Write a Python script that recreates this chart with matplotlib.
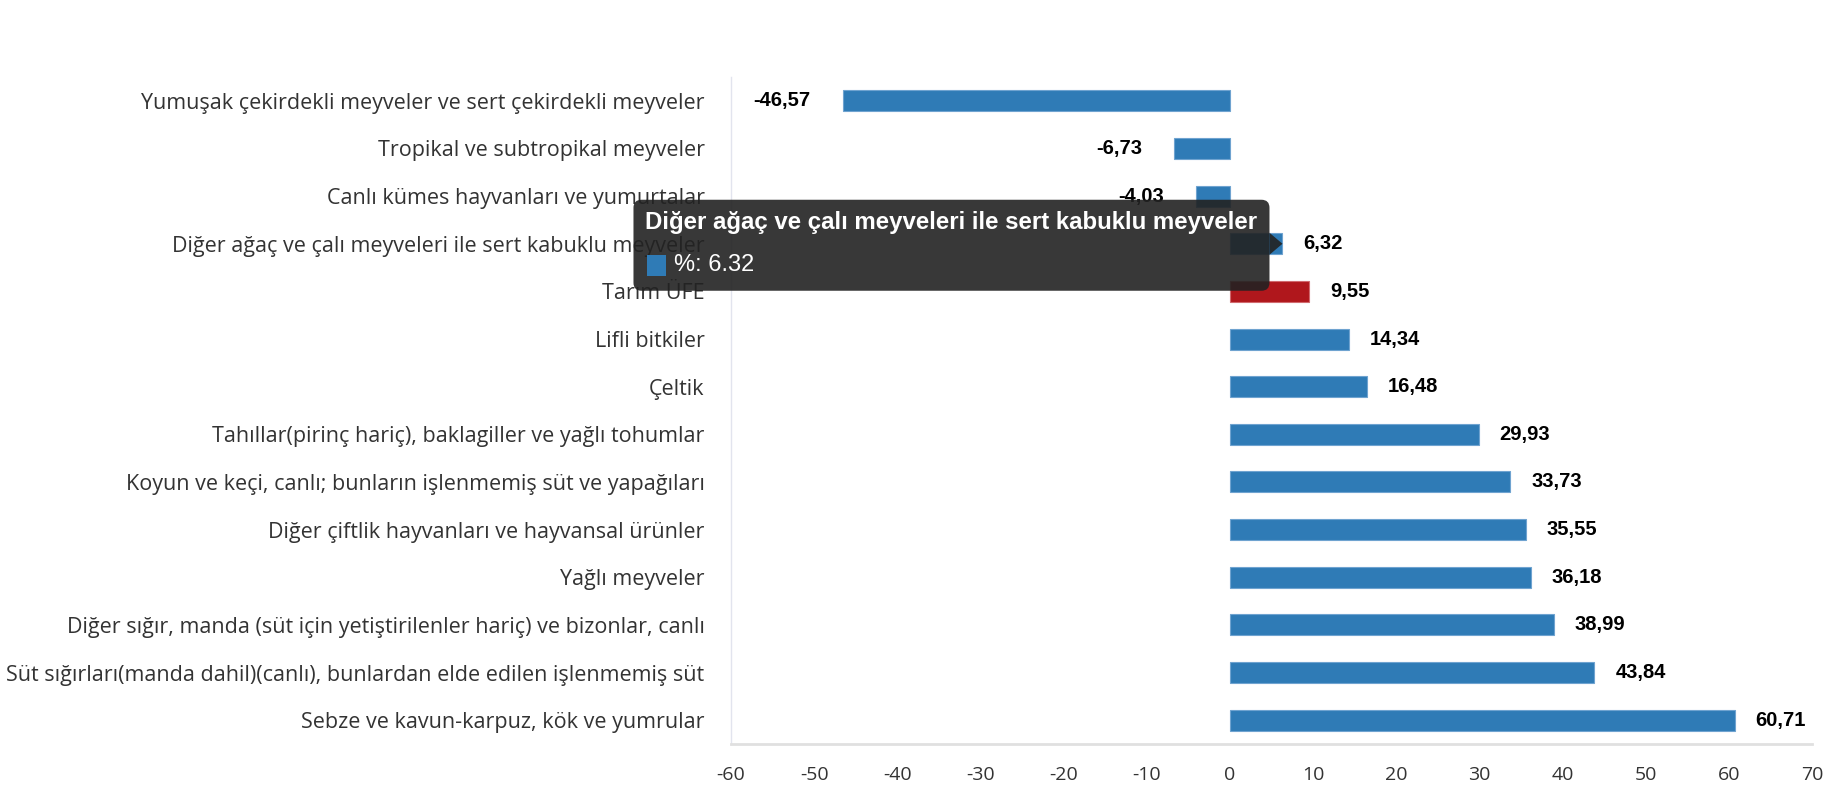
import matplotlib
matplotlib.use("Agg")
import matplotlib.pyplot as plt
from matplotlib.patches import FancyBboxPatch, Polygon, Rectangle
from matplotlib.transforms import IdentityTransform

categories = [
    "Yumuşak çekirdekli meyveler ve sert çekirdekli meyveler",
    "Tropikal ve subtropikal meyveler",
    "Canlı kümes hayvanları ve yumurtalar",
    "Diğer ağaç ve çalı meyveleri ile sert kabuklu meyveler",
    "Tarım ÜFE",
    "Lifli bitkiler",
    "Çeltik",
    "Tahıllar(pirinç hariç), baklagiller ve yağlı tohumlar",
    "Koyun ve keçi, canlı; bunların işlenmemiş süt ve yapağıları",
    "Diğer çiftlik hayvanları ve hayvansal ürünler",
    "Yağlı meyveler",
    "Diğer sığır, manda (süt için yetiştirilenler hariç) ve bizonlar, canlı",
    "Süt sığırları(manda dahil)(canlı), bunlardan elde edilen işlenmemiş süt",
    "Sebze ve kavun-karpuz, kök ve yumrular",
]
values = [-46.57, -6.73, -4.03, 6.32, 9.55, 14.34, 16.48, 29.93, 33.73,
          35.55, 36.18, 38.99, 43.84, 60.71]
highlight = "Tarım ÜFE"
xticks = list(range(-60, 71, 10))
tooltip_index = 3
tooltip_title = categories[tooltip_index]
tooltip_text = "%: 6.32"

BLUE = "#2f7bb6"
RED = "#b0171c"

fig = plt.figure(figsize=(18.3, 8), dpi=100)
ax = fig.add_axes([731 / 1830, 1 - 744 / 800, (1812 - 731) / 1830, (744 - 77) / 800])

ypos = list(range(len(categories)))
colors = [RED if c == highlight else BLUE for c in categories]
edgecolors = ["#d06a6e" if c == highlight else "#6fa3d0" for c in categories]
ax.barh(ypos, values, height=0.44, color=colors, edgecolor=edgecolors,
        linewidth=0.8, zorder=3)

ax.set_xlim(-60, 70)
ax.set_ylim(len(categories) - 0.5, -0.5)
ax.set_xticks(xticks)
ax.set_xticklabels([str(t) for t in xticks], fontfamily="Open Sans",
                   fontsize=14, color="#333333")
ax.set_yticks(ypos)
ax.set_yticklabels(categories, fontfamily="Open Sans", fontsize=15.5,
                   color="#333333")
ax.tick_params(axis="y", length=0, pad=19)
ax.tick_params(axis="x", length=0, pad=16)

for s in ["top", "right"]:
    ax.spines[s].set_visible(False)
ax.spines["bottom"].set_color("#e0e0e0")
ax.spines["bottom"].set_linewidth(2)
ax.spines["left"].set_color("#e2e4ee")
ax.spines["left"].set_linewidth(1)

for y, v in zip(ypos, values):
    lab = f"{v:.2f}".replace(".", ",")
    if v >= 0:
        ax.annotate(lab, (v, y), xytext=(15, 0), textcoords="offset points",
                    ha="left", va="center", fontsize=14.5, fontweight="bold",
                    fontfamily="Liberation Sans", color="black", zorder=4)
    else:
        ax.annotate(lab, (v, y), xytext=(-23, 0), textcoords="offset points",
                    ha="right", va="center", fontsize=14.5, fontweight="bold",
                    fontfamily="Liberation Sans", color="black", zorder=4)

# Tooltip (pixel coordinates relative to hovered bar end)
fig.canvas.draw()
tx, ty = ax.transData.transform((values[tooltip_index], tooltip_index))
bx1 = tx - 13
bx0 = bx1 - 636
btop = ty + 44
bbot = ty - 47
tt = IdentityTransform()
box = FancyBboxPatch((bx0, bbot), bx1 - bx0, btop - bbot,
                     boxstyle="round,pad=0,rounding_size=8",
                     facecolor="#222222", edgecolor="none", alpha=0.9,
                     transform=tt, zorder=10)
fig.patches.append(box)
tri = Polygon([(bx1, ty + 11), (tx, ty), (bx1, ty - 11)], closed=True,
              facecolor="#222222", edgecolor="none", alpha=0.9,
              transform=tt, zorder=10)
fig.patches.append(tri)
fig.text(bx0 + 12, ty + 21, tooltip_title, transform=tt, color="white",
         fontsize=17.3, fontweight="bold", fontfamily="Liberation Sans",
         ha="left", va="center", zorder=11)
sq = Rectangle((bx0 + 14, ty - 32), 19, 21, facecolor=BLUE, edgecolor="none",
               transform=tt, zorder=11)
fig.patches.append(sq)
fig.text(bx0 + 41, ty - 21, tooltip_text, transform=tt, color="white",
         fontsize=17, fontfamily="Liberation Sans", ha="left", va="center",
         zorder=11)

fig.savefig("out.png", dpi=100)
